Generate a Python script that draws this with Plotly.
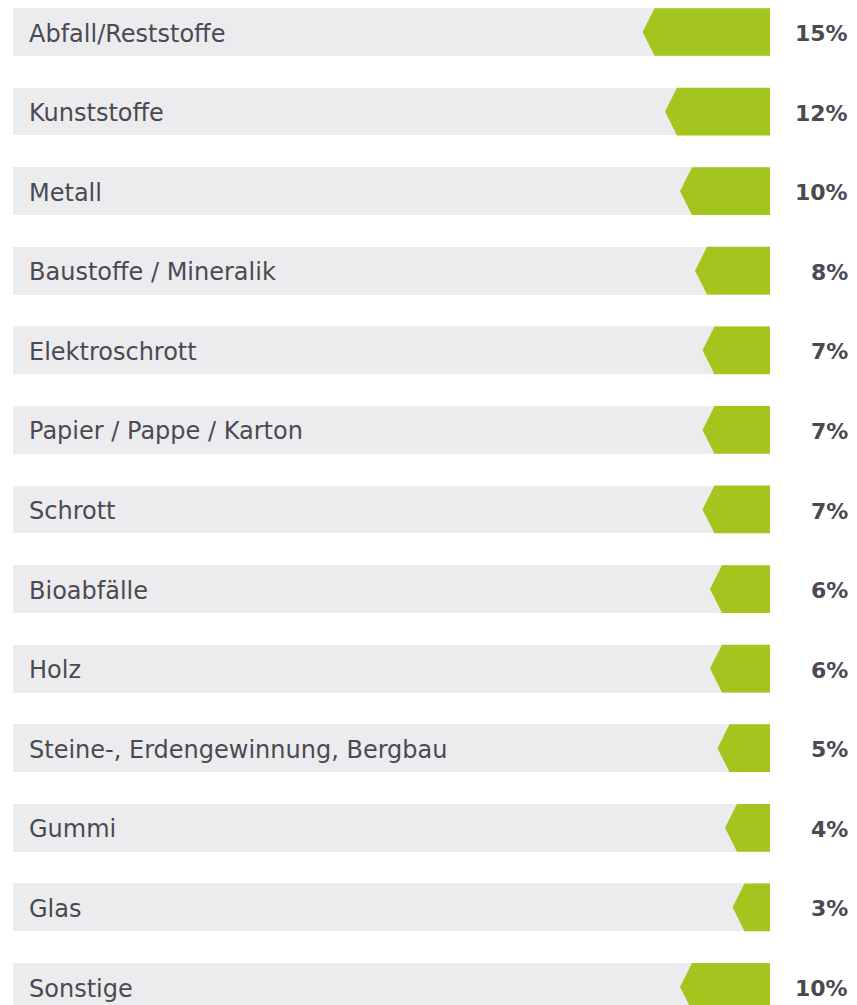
import plotly.graph_objects as go

categories = ["Abfall/Reststoffe", "Kunststoffe", "Metall", "Baustoffe / Mineralik",
              "Elektroschrott", "Papier / Pappe / Karton", "Schrott", "Bioabfälle",
              "Holz", "Steine-, Erdengewinnung, Bergbau", "Gummi", "Glas", "Sonstige"]
shares = [15, 12, 10, 8, 7, 7, 7, 6, 6, 5, 4, 3, 10]
track_max = 101

GREY = "#ECECEE"
GREEN = "#A4C51D"
TEXT = "#4A4A52"

# the page adds an 8px body margin, so the figure is drawn 8px smaller
W, H = 849, 997

rows = list(range(len(categories)))
half = 0.3  # half bar thickness in row units

fig = go.Figure()

# grey track behind every row
fig.add_trace(go.Bar(
    y=rows, x=[track_max] * len(rows), orientation="h",
    width=2 * half, marker=dict(color=GREY, line=dict(width=0)),
    hoverinfo="skip", showlegend=False,
))

# green arrow shapes, length follows the share
xs, ys = [], []
for i, v in zip(rows, shares):
    tip = v + 2
    xs += [0, tip - 1.6, tip, tip - 1.6, 0, 0, None]
    ys += [i - half, i - half, i, i + half, i + half, i - half, None]
fig.add_trace(go.Scatter(
    x=xs, y=ys, mode="lines", fill="toself", fillcolor=GREEN,
    line=dict(width=0, color=GREEN), hoverinfo="skip", showlegend=False,
))

for i, (cat, v) in enumerate(zip(categories, shares)):
    fig.add_annotation(x=19 / W, xref="paper", y=i + 0.02, yref="y", text=cat,
                       showarrow=False, xanchor="left", yanchor="middle",
                       font=dict(family="DejaVu Sans", size=24, color=TEXT))
    fig.add_annotation(x=842 / W, xref="paper", y=i + 0.02, yref="y", text=f"<b>{v}%</b>",
                       showarrow=False, xanchor="right", yanchor="middle",
                       font=dict(family="DejaVu Sans", size=22, color=TEXT))

fig.update_layout(
    width=W, height=H,
    margin=dict(l=0, r=0, t=0, b=0),
    paper_bgcolor="white", plot_bgcolor="white",
    xaxis=dict(range=[101.6, -11.6], visible=False, fixedrange=True),
    yaxis=dict(range=[12.227, -0.3016], visible=False, fixedrange=True),
    bargap=0,
)

fig.write_html("out.html")
